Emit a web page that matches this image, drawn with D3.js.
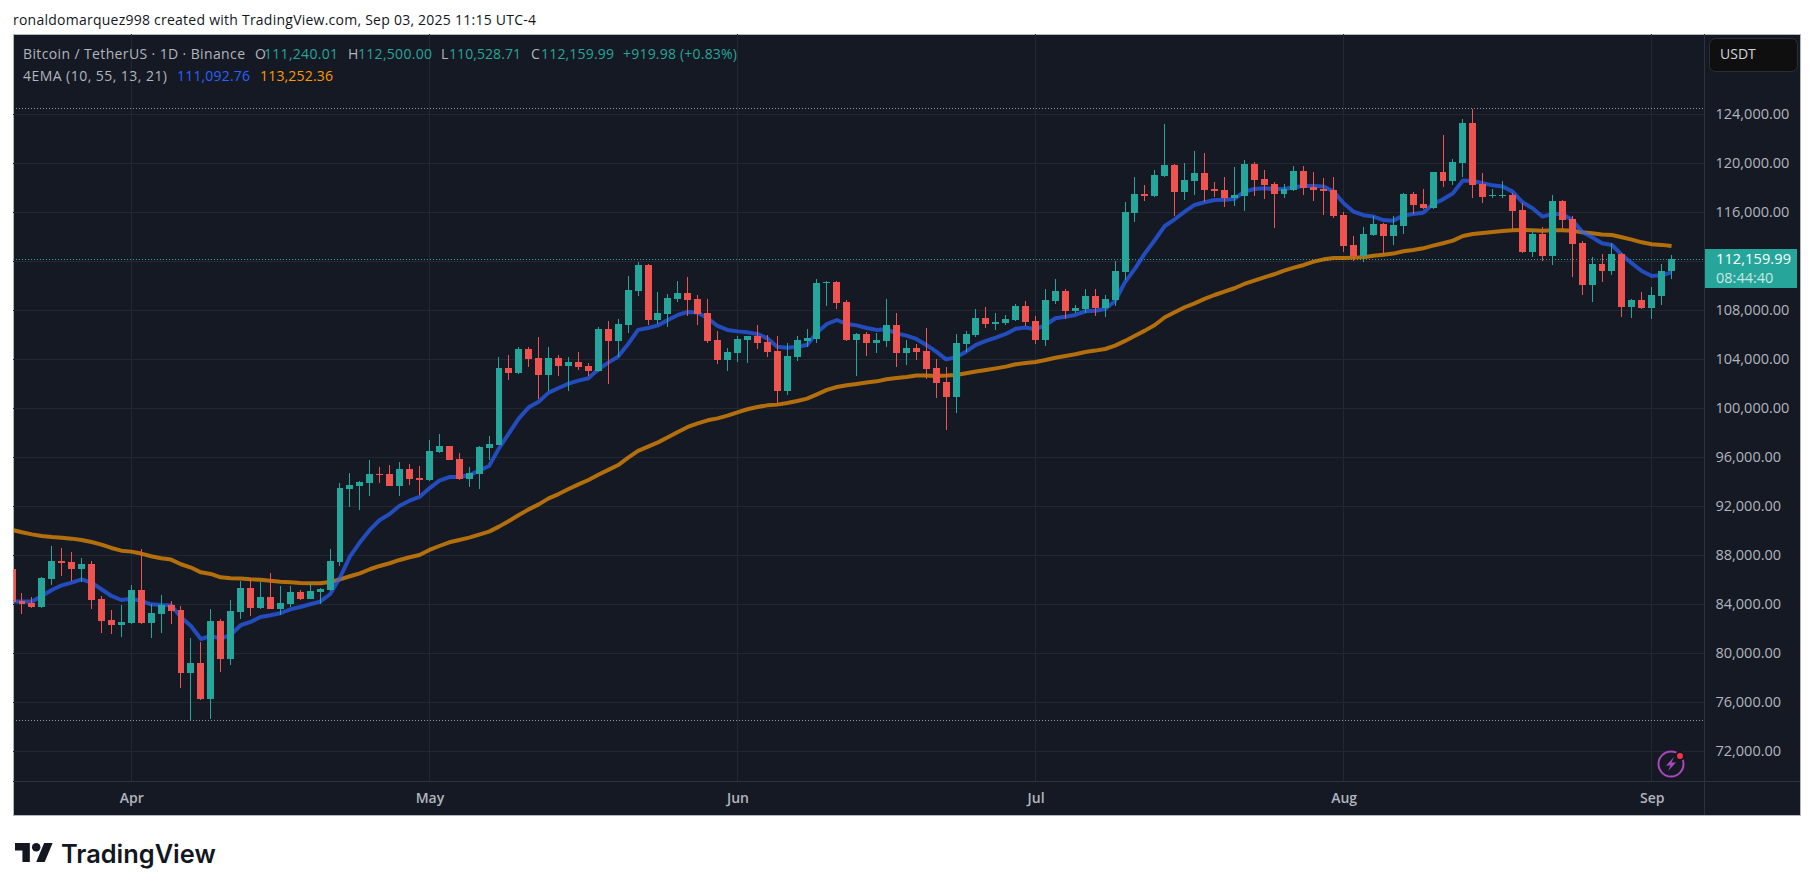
<!DOCTYPE html>
<html>
<head>
<meta charset="utf-8">
<script src="https://cdnjs.cloudflare.com/ajax/libs/d3/7.8.5/d3.min.js"></script>
<style>
  html, body { margin: 0; background: #fff; overflow: hidden; }
  text { font-family: "Open Sans", Roboto, sans-serif; }
</style>
</head>
<body>
<div id="chart"></div>
<script>
// daily candles from Mar 20 2025 to Sep 03 2025
const firstDay = Date.UTC(2025, 2, 20);
const opens = [
  86880,84270,84110,83780,86070,87540,87460,86880,87290,84440,
  82720,82310,82480,85170,82480,83210,83950,83540,78400,79210,
  76270,82640,79540,83370,85330,83700,84600,83620,84030,85010,
  84440,85010,85170,87460,93420,93660,93900,94640,94640,93660,
  95050,94310,94150,96440,96920,95860,94230,94640,96760,97010,
  103290,102880,104840,104110,102720,104110,103460,103780,103460,103050,
  106480,105500,106800,109580,111700,107210,107700,108930,109410,108930,
  107780,105580,103950,104520,105580,105900,105420,104680,101420,104190,
  105500,105660,110230,110310,108680,105580,106070,105330,105500,106800,
  104520,104930,104680,103290,102150,100930,105250,105990,107370,106880,
  106970,107210,108350,107130,105580,108760,109580,107950,108110,109170,
  108190,108840,111130,115950,117500,117330,118970,119860,117660,118560,
  119210,117900,117820,117170,117330,119950,118720,118310,117500,117820,
  119370,118070,117900,117820,115780,113330,112440,114150,115050,114070,
  114890,117500,116680,116350,119290,118560,120030,123290,118310,117330,
  117340,117420,116190,112760,114230,112440,116930,115460,113500,110070,
  111780,111210,112600,108270,108840,108190,109170,111240.01
];
const highs = [
  87400,84930,84600,86200,88760,88600,88270,87780,87540,84680,
  83540,83950,85580,88520,84030,84760,84270,83860,81250,80930,
  83620,82800,84350,85900,86070,85820,86560,85500,85500,85170,
  85740,85330,88520,93900,94720,94070,95780,95210,95370,95620,
  95460,95290,97420,97900,96950,96350,95210,96930,97740,104190,
  104350,105010,105010,105820,105010,104350,104190,104600,103700,106640,
  107130,107290,110800,111950,111780,109500,109330,110390,110720,109250,
  108930,106310,104930,105910,105910,106800,105990,105910,105330,105910,
  106480,110560,110390,110390,108840,106150,106230,106150,108930,107780,
  105580,105250,106560,104030,103370,106070,106310,108110,108270,107780,
  107620,108520,108760,107540,109740,110560,109740,108430,109740,109740,
  109250,112030,116840,118880,118230,119460,123210,119950,120030,121010,
  120840,118480,118880,119700,120270,120110,119460,118480,118310,119780,
  119780,119290,118800,118880,116030,114070,114800,115700,115100,115700,
  117580,117660,117900,119300,122310,120350,123620,124410,119210,117900,
  118560,117580,116760,114640,114800,117420,117010,115700,113660,112350,
  112600,113500,112650,108930,109500,109900,111780,112500
];
const lows = [
  83900,83210,83700,83700,85580,86310,85900,85820,83620,81660,
  81580,81330,82400,82400,81250,81660,82400,77170,74560,76200,
  74640,78480,79050,82800,83050,83650,83600,83130,83780,84350,
  84400,84030,85100,87130,91950,91700,92840,93900,93660,92840,
  93740,92930,94100,96350,95780,94150,93580,93420,95780,97000,
  102310,102800,103370,100760,101420,102640,101420,103130,102640,103000,
  101990,104190,106150,109170,106800,106880,106640,108680,107540,106800,
  105330,103620,103050,103780,103700,104840,104190,100350,101090,103860,
  105010,105330,108350,108110,105500,102640,104270,104520,105010,103370,
  103540,103950,102390,100840,98230,99620,104600,105820,106560,106390,
  106800,107150,106720,105250,105090,108520,107290,107780,107780,107540,
  107460,108350,110480,115210,116920,117250,118880,115700,117010,117420,
  116840,117250,116440,116520,116110,117330,117090,114720,117170,117750,
  117420,116920,115780,115540,112760,112030,111950,114070,112600,113330,
  114230,115860,116270,116300,118070,118230,118880,117170,116760,117170,
  117170,114560,112700,112350,112030,111700,114640,110720,109250,108680,
  110310,110890,107460,107380,108110,107290,108440,110528.71
];
const closes = [
  84220,84030,83780,86150,87540,87370,86880,87290,84350,82640,
  82310,82560,85170,82480,83290,83950,83460,78400,79210,76270,
  82640,79540,83460,85330,83700,84600,83620,84110,85010,84440,
  85090,85250,87540,93500,93740,93990,94640,94560,93660,95050,
  94230,94150,96520,96920,95780,94230,94720,96840,97090,103290,
  102880,104840,104030,102720,104110,103460,103780,103370,103050,106480,
  105500,106880,109660,111700,107210,107780,109010,109410,108840,107700,
  105500,103950,104600,105660,105900,105330,104600,101420,104270,105580,
  105740,110230,110310,108600,105580,106070,105330,105580,106800,104520,
  104930,104600,103210,102070,100930,105330,106070,107370,106880,107050,
  107290,108350,107050,105580,108840,109580,107950,108190,109170,108190,
  108930,111210,116030,117500,117330,119050,119860,117660,118640,119210,
  117820,117740,117170,117420,119950,118640,118230,117500,117900,119370,
  117990,117820,117740,115700,113250,112440,114230,115050,114070,114970,
  117500,116600,116350,119290,118560,120110,123290,118230,117250,117420,
  117420,116110,112760,114230,112440,116930,115370,113420,110070,111780,
  111210,112600,108270,108840,108190,109250,111210,112159.99
];
const emaFast = [
  84220,84220,84220,84680,85170,85550,85770,86040,85770,85230,
  84680,84350,84460,84270,84000,83950,83920,82940,82230,81170,
  81420,81200,81500,82290,82560,82970,83100,83270,83590,83780,
  84000,84220,84820,86180,87890,89060,90070,90880,91370,92050,
  92460,92760,93470,94090,94390,94390,94530,94910,95290,96730,
  97960,99180,100080,100540,101280,101660,102010,102260,102450,103180,
  103730,104220,105250,106400,106560,106770,107210,107620,107860,107810,
  107350,106720,106400,106280,106200,106070,105710,105030,104950,105030,
  105170,106180,106880,107210,106880,106770,106560,106400,106450,106120,
  105930,105660,105170,104620,104000,104160,104620,105170,105500,105770,
  106070,106500,106590,106450,106800,107350,107480,107620,107920,107970,
  108110,108760,110300,111400,112650,113740,114880,115430,116050,116600,
  116820,117000,117030,117090,117690,117900,117960,117900,117900,118040,
  118150,118150,118100,117690,116740,116050,115760,115650,115370,115320,
  115730,115860,115970,116680,117060,117550,118590,118560,118370,118200,
  118100,117690,116820,116330,115650,115860,115860,115370,114420,113960,
  113470,113330,112520,111840,111210,110800,110860,111092.76
];
const emaSlow = [
  90070,89880,89710,89580,89500,89440,89360,89250,89090,88870,
  88600,88380,88300,88140,87920,87760,87650,87270,87000,86610,
  86480,86200,86120,86100,86040,86010,85930,85850,85800,85740,
  85710,85710,85820,86040,86290,86530,86860,87130,87350,87620,
  87840,88030,88440,88760,89060,89250,89440,89690,89930,90340,
  90800,91290,91750,92160,92650,93000,93410,93790,94150,94580,
  94970,95370,95970,96520,96870,97220,97630,98070,98480,98770,
  99020,99180,99400,99670,99920,100110,100240,100300,100430,100600,
  100790,101140,101500,101740,101880,101990,102100,102200,102370,102470,
  102560,102670,102670,102640,102670,102720,102860,103000,103130,103260,
  103400,103590,103700,103780,103940,104130,104270,104410,104600,104710,
  104840,105120,105500,105930,106340,106800,107430,107840,108250,108570,
  108930,109250,109520,109800,110150,110420,110690,110940,111240,111480,
  111700,111970,112160,112270,112270,112300,112330,112460,112540,112630,
  112820,112930,113060,113280,113470,113690,114070,114230,114310,114400,
  114480,114530,114560,114530,114500,114530,114530,114500,114370,114290,
  114180,114150,113960,113770,113550,113390,113340,113252.36
];
const priceTicks = [72000,76000,80000,84000,88000,92000,96000,100000,104000,108000,112000,116000,120000,124000];
const monthTicks = [Date.UTC(2025,3,1), Date.UTC(2025,4,1), Date.UTC(2025,5,1), Date.UTC(2025,6,1), Date.UTC(2025,7,1), Date.UTC(2025,8,1)];
const periodHigh = 124450;
const periodLow = 74510;
const lastPrice = 112159.99;
const headerText = "ronaldomarquez998 created with TradingView.com, Sep 03, 2025 11:15 UTC-4";

const DAY = 86400000;
const WIDTH = 1814, HEIGHT = 891;
const LEFT = 13, RIGHT = 1704.5, FAR = 1800, TOP = 34, BOTTOM = 781, END = 815;
const UP = "#26a69a", DOWN = "#ef5350", GRID = "#232732", LABEL = "#b2b5be";

const candles = opens.map((o, i) => ({
  date: firstDay + i * DAY, o, h: highs[i], l: lows[i], c: closes[i]
}));

const x = d3.scaleUtc().domain([monthTicks[0], monthTicks[5]]).range([131.3, 1651.7]);
const y = d3.scaleLinear().domain([72000, 124000]).range([751.3, 114.3]);
const bodyWidth = (x(firstDay + DAY) - x(firstDay)) * 0.7;

const svg = d3.select("#chart").append("svg").attr("width", WIDTH).attr("height", HEIGHT);

svg.append("text").attr("x", 13).attr("y", 24.5).attr("textLength", 523)
  .attr("font-size", 14).attr("fill", "#131722").text(headerText);

// pane
svg.append("rect").attr("x", LEFT).attr("y", TOP).attr("width", FAR - LEFT).attr("height", END - TOP)
  .attr("fill", "#151924").attr("stroke", "#b4b6bb").attr("stroke-width", 1).attr("shape-rendering", "crispEdges");

svg.append("clipPath").attr("id", "plot").append("rect")
  .attr("x", LEFT + 0.5).attr("y", TOP + 0.5).attr("width", RIGHT - LEFT - 0.5).attr("height", BOTTOM - TOP - 0.5);

// grid
const grid = svg.append("g").attr("shape-rendering", "crispEdges");
grid.selectAll(".h").data(priceTicks).join("line").attr("class", "h")
  .attr("x1", LEFT).attr("x2", RIGHT).attr("y1", d => y(d)).attr("y2", d => y(d)).attr("stroke", GRID);
grid.selectAll(".v").data(monthTicks).join("line").attr("class", "v")
  .attr("x1", d => x(d)).attr("x2", d => x(d)).attr("y1", TOP).attr("y2", BOTTOM).attr("stroke", GRID);

// separators of the axes
grid.append("line").attr("x1", RIGHT).attr("x2", RIGHT).attr("y1", TOP).attr("y2", END).attr("stroke", "#2e323d");
grid.append("line").attr("x1", LEFT).attr("x2", FAR).attr("y1", BOTTOM).attr("y2", BOTTOM).attr("stroke", "#2e323d");

const plot = svg.append("g").attr("clip-path", "url(#plot)");

// high, low and last price lines
[[periodHigh, "#9598a1"], [periodLow, "#9598a1"], [lastPrice, UP]].forEach(([p, col]) => {
  plot.append("line").attr("x1", LEFT).attr("x2", RIGHT).attr("y1", y(p)).attr("y2", y(p))
    .attr("stroke", col).attr("stroke-dasharray", "1 2").attr("shape-rendering", "crispEdges");
});

// EMAs under the candles
const emaLine = d3.line().x((d, i) => x(candles[i].date)).y(d => y(d));
plot.append("path").attr("d", emaLine(emaSlow)).attr("fill", "none")
  .attr("stroke", "#ff9800").attr("stroke-opacity", 0.68).attr("stroke-width", 4).attr("stroke-linejoin", "round");
plot.append("path").attr("d", emaLine(emaFast)).attr("fill", "none")
  .attr("stroke", "#2962ff").attr("stroke-opacity", 0.7).attr("stroke-width", 4).attr("stroke-linejoin", "round");

const candle = plot.selectAll(".candle").data(candles).join("g").attr("class", "candle")
  .attr("fill", d => d.c >= d.o ? UP : DOWN).attr("stroke", d => d.c >= d.o ? UP : DOWN)
  .attr("shape-rendering", "crispEdges");
candle.append("line")
  .attr("x1", d => x(d.date)).attr("x2", d => x(d.date))
  .attr("y1", d => y(d.h)).attr("y2", d => y(d.l));
candle.append("rect").attr("stroke", "none")
  .attr("x", d => x(d.date) - bodyWidth / 2).attr("width", bodyWidth)
  .attr("y", d => y(Math.max(d.o, d.c)))
  .attr("height", d => Math.max(1, Math.abs(y(d.o) - y(d.c))));

// price axis
const priceAxis = svg.append("g").attr("transform", `translate(${RIGHT},0)`)
  .call(d3.axisRight(y).tickValues(priceTicks).tickFormat(d3.format(",.2f")).tickSize(0).tickPadding(11));
priceAxis.select(".domain").remove();
priceAxis.selectAll("text").attr("font-size", 14.5).attr("fill", LABEL).attr("font-family", null).attr("dy", "0.3em");

// time axis
const timeAxis = svg.append("g").attr("transform", `translate(0,${BOTTOM})`)
  .call(d3.axisBottom(x).tickValues(monthTicks).tickFormat(d3.utcFormat("%b")).tickSize(0).tickPadding(12));
timeAxis.select(".domain").remove();
timeAxis.selectAll("text").attr("font-size", 14).attr("font-weight", 600).attr("fill", LABEL);

// legend rows
const legend = [
  ["Bitcoin / TetherUS · 1D · Binance", 23, 59, LABEL, 222],
  ["O", 255, 59, LABEL], ["111,240.01", 264, 59, UP, 74],
  ["H", 348, 59, LABEL], ["112,500.00", 358, 59, UP, 74],
  ["L", 441, 59, LABEL], ["110,528.71", 449, 59, UP, 72],
  ["C", 531, 59, LABEL], ["112,159.99", 541, 59, UP, 73],
  ["+919.98 (+0.83%)", 623, 59, UP, 114],
  ["4EMA (10, 55, 13, 21)", 23, 81, LABEL, 144],
  ["111,092.76", 177, 81, "#2962ff", 73],
  ["113,252.36", 260, 81, "#ff9800", 73]
];
svg.selectAll(".legend").data(legend).join("text").attr("class", "legend")
  .attr("x", d => d[1]).attr("y", d => d[2]).attr("fill", d => d[3])
  .attr("textLength", d => d[4] || null)
  .attr("font-size", 14).text(d => d[0]);

// currency button
svg.append("rect").attr("x", 1709.5).attr("y", 38.5).attr("width", 88).attr("height", 33).attr("rx", 6)
  .attr("fill", "#0f0f0f").attr("stroke", "#2a2e39");
svg.append("text").attr("x", 1720).attr("y", 59).attr("font-size", 14).attr("fill", "#d1d4dc").text("USDT");

// last price tag
svg.append("rect").attr("x", RIGHT + 0.5).attr("y", 249).attr("width", 92).attr("height", 39).attr("fill", UP);
svg.append("text").attr("x", 1716).attr("y", 264).attr("font-size", 14.5).attr("textLength", 75).attr("fill", "#fff").text("112,159.99");
svg.append("text").attr("x", 1716).attr("y", 282.5).attr("font-size", 14.5).attr("fill", "#fff").attr("fill-opacity", 0.75).text("08:44:40");

// bolt icon
const icon = svg.append("g").attr("transform", "translate(1671,764)");
icon.append("circle").attr("r", 12.5).attr("fill", "none").attr("stroke", "#ab47bc").attr("stroke-width", 2);
icon.append("path").attr("d", "M3,-7 L-5,1.5 L-0.5,1.5 L-3,7 L5,-1.5 L0.5,-1.5 Z").attr("fill", "#ab47bc");
icon.append("circle").attr("cx", 9).attr("cy", -8).attr("r", 5).attr("fill", "#131722");
icon.append("circle").attr("cx", 9).attr("cy", -8).attr("r", 3).attr("fill", "#f23645");

// logo
const logo = svg.append("g").attr("transform", "translate(15,838.8) scale(1.06)").attr("fill", "#131722");
logo.append("path").attr("d", "M14 22H7V11H0V4h14v18zM28 22h-8l7.5-18h8L28 22z");
logo.append("circle").attr("cx", 20).attr("cy", 8).attr("r", 4);
svg.append("text").attr("x", 61).attr("y", 862.5).style("font-family", "Inter")
  .attr("font-size", 25.4).attr("font-weight", 600).attr("fill", "#131722").text("TradingView");
</script>
</body>
</html>
